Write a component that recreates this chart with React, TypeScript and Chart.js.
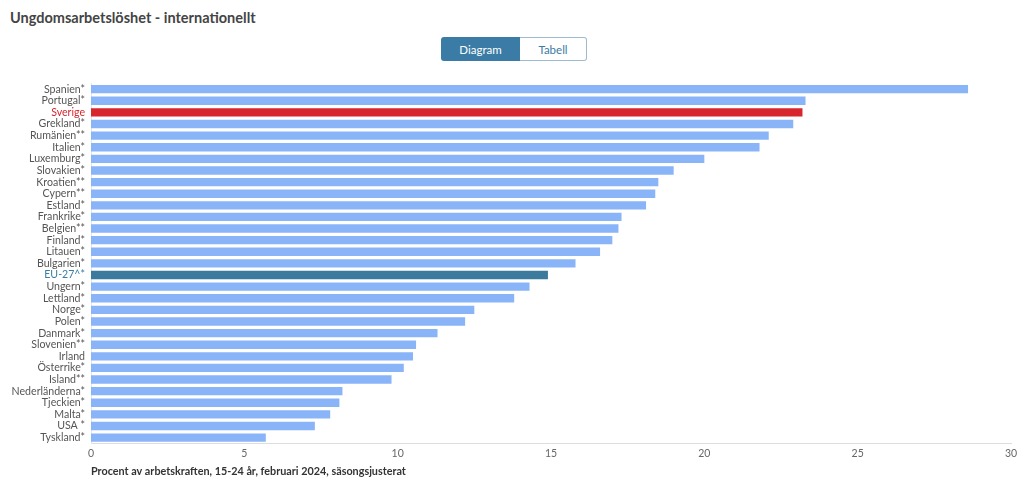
import React, { useEffect, useRef } from "react";
import { Chart, registerables } from "chart.js";

Chart.register(...registerables);

const countries = [
  "Spanien*", "Portugal*", "Sverige", "Grekland*", "Rumänien**", "Italien*", "Luxemburg*",
  "Slovakien*", "Kroatien**", "Cypern**", "Estland*", "Frankrike*", "Belgien**", "Finland*",
  "Litauen*", "Bulgarien*", "EU-27^*", "Ungern*", "Lettland*", "Norge*", "Polen*", "Danmark*",
  "Slovenien**", "Irland", "Österrike*", "Island**", "Nederländerna*", "Tjeckien*", "Malta*",
  "USA *", "Tyskland*",
];

const unemployment = [
  28.6, 23.3, 23.2, 22.9, 22.1, 21.8, 20.0, 19.0, 18.5, 18.4, 18.1, 17.3, 17.2, 17.0,
  16.6, 15.8, 14.9, 14.3, 13.8, 12.5, 12.2, 11.3, 10.6, 10.5, 10.2, 9.8, 8.2, 8.1, 7.8,
  7.3, 5.7,
];

const xTicks = [0, 5, 10, 15, 20, 25, 30];

const axisTitle = "Procent av arbetskraften, 15-24 år, februari 2024, säsongsjusterat";
const chartTitle = "Ungdomsarbetslöshet - internationellt";

const BLUE = "#8ab4f8";
const RED = "#d7262d";
const TEAL = "#3b7a9c";

function barColor(label: string) {
  if (label === "Sverige") return RED;
  if (label.startsWith("EU-27")) return TEAL;
  return BLUE;
}
function labelColor(label: string) {
  if (label === "Sverige") return RED;
  if (label.startsWith("EU-27")) return "#3a7ca5";
  return "#555555";
}

export default function App() {
  const ref = useRef<HTMLCanvasElement | null>(null);

  useEffect(() => {
    if (!ref.current) return;
    const chart = new Chart(ref.current, {
      type: "bar",
      data: {
        labels: countries,
        datasets: [
          {
            data: unemployment,
            backgroundColor: countries.map(barColor),
            borderWidth: 0,
            barPercentage: 0.72,
            categoryPercentage: 1,
          },
        ],
      },
      options: {
        indexAxis: "y",
        animation: false,
        responsive: false,
        maintainAspectRatio: false,
        layout: { padding: { top: 3, right: 13, bottom: 5, left: 0 } },
        plugins: { legend: { display: false }, tooltip: { enabled: false } },
        scales: {
          x: {
            min: 0,
            max: 30,
            afterBuildTicks: (scale: any) => {
              scale.ticks = xTicks.map((v) => ({ value: v }));
            },
            grid: { display: false, drawTicks: false },
            border: { color: "#dddddd", width: 1 },
            ticks: {
              color: "#666666",
              font: { family: "Lato", size: 10.5 },
              padding: 4,
              maxRotation: 0,
            },
            title: {
              display: true,
              text: axisTitle,
              align: "start",
              color: "#333333",
              font: { family: "Lato", size: 10.8, weight: "bold" },
              padding: { top: 1, bottom: 0 },
            },
          },
          y: {
            afterFit: (scale: any) => {
              scale.width = 91;
            },
            grid: { display: false, drawTicks: false },
            border: { color: "#e6e6e6", width: 1 },
            ticks: {
              autoSkip: false,
              padding: 6,
              color: (ctx: any) => labelColor(countries[ctx.index] ?? ""),
              font: { family: "Lato", size: 10.6 },
            },
          },
        },
      },
    });
    return () => chart.destroy();
  }, []);

  return (
    <div style={{ position: "fixed", left: 0, top: 0, width: 1024, height: 483, background: "#fff", fontFamily: "Lato" }}>
      <div style={{ position: "absolute", left: 10, top: 9, fontSize: 14.5, fontWeight: 700, color: "#444" }}>
        {chartTitle}
      </div>
      <div style={{ position: "absolute", left: 441, top: 37, display: "flex", height: 24 }}>
        <div
          style={{
            width: 79, height: 24, boxSizing: "border-box", background: "#3a7ca5", color: "#fff",
            fontSize: 11.5, display: "flex", alignItems: "center", justifyContent: "center",
            borderRadius: "3px 0 0 3px",
          }}
        >
          Diagram
        </div>
        <div
          style={{
            width: 67, height: 24, boxSizing: "border-box", background: "#fff", color: "#3a7ca5",
            fontSize: 11.5, display: "flex", alignItems: "center", justifyContent: "center",
            border: "1px solid #9dbbd0", borderLeft: "none", borderRadius: "0 3px 3px 0",
          }}
        >
          Tabell
        </div>
      </div>
      <canvas ref={ref} width={1024} height={412} style={{ position: "absolute", left: 0, top: 71, width: 1024, height: 412 }} />
    </div>
  );
}
